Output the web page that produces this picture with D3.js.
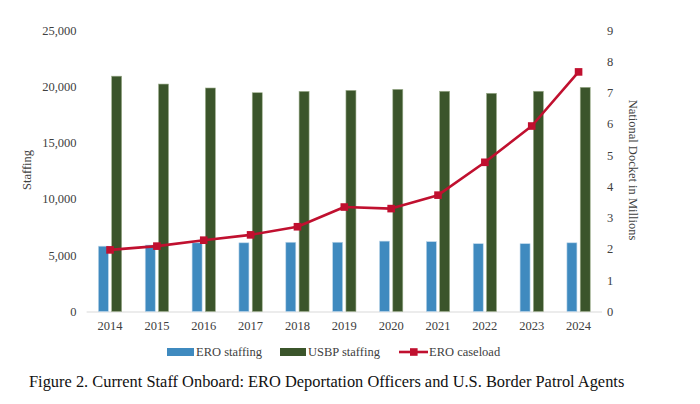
<!DOCTYPE html>
<html><head><meta charset="utf-8">
<script src="https://cdn.jsdelivr.net/npm/d3@7"></script>
<style>body{margin:0;background:#fff}svg{display:block}text{font-family:"Liberation Serif","Times New Roman",serif}</style>
</head><body>
<script>
const years = ["2014","2015","2016","2017","2018","2019","2020","2021","2022","2023","2024"];
const eroStaffing = [5800,5900,6100,6100,6150,6150,6250,6200,6020,6020,6100];
const usbpStaffing = [20900,20200,19850,19430,19550,19640,19730,19560,19380,19560,19910];
const eroCaseload = [1.97,2.09,2.28,2.45,2.71,3.34,3.29,3.72,4.77,5.93,7.66];
const leftTicks = [0,5000,10000,15000,20000,25000];
const rightTicks = [0,1,2,3,4,5,6,7,8,9];
const seriesNames = ["ERO staffing","USBP staffing","ERO caseload"];
const caption = "Figure 2. Current Staff Onboard: ERO Deportation Officers and U.S. Border Patrol Agents";

const W=700,H=404;
const svg=d3.select("body").append("svg").attr("width",W).attr("height",H);
const x=d3.scaleBand().domain(years).range([86.6,602]).paddingInner(0).paddingOuter(0);
const yL=d3.scaleLinear().domain([0,25000]).range([311.5,30]);
const yR=d3.scaleLinear().domain([0,9]).range([311.5,30]);
const blue="#3f8abf", green="#3b552b", red="#c0102f";
const barW=10, gap=3.3;

// baseline
svg.append("line").attr("x1",86.6).attr("x2",602).attr("y1",312).attr("y2",312).attr("stroke","#d9d9d9").attr("stroke-width",1.2);

const cx=d=>x(d)+x.bandwidth()/2;
svg.append("g").selectAll("rect").data(years).join("rect")
 .attr("x",d=>cx(d)-gap/2-barW).attr("width",barW)
 .attr("y",(d,i)=>yL(eroStaffing[i])).attr("height",(d,i)=>yL(0)-yL(eroStaffing[i]))
 .attr("fill",blue).attr("stroke","#bcd6ea").attr("stroke-width",0.6);
svg.append("g").selectAll("rect").data(years).join("rect")
 .attr("x",d=>cx(d)+gap/2).attr("width",barW)
 .attr("y",(d,i)=>yL(usbpStaffing[i])).attr("height",(d,i)=>yL(0)-yL(usbpStaffing[i]))
 .attr("fill",green).attr("stroke","#9fb08f").attr("stroke-width",0.6);

const line=d3.line().x((d,i)=>cx(years[i])).y(d=>yR(d));
svg.append("path").datum(eroCaseload).attr("d",line).attr("fill","none").attr("stroke",red).attr("stroke-width",2.6).attr("stroke-linejoin","round");
svg.append("g").selectAll("rect").data(eroCaseload).join("rect")
 .attr("x",(d,i)=>cx(years[i])-3.8).attr("y",d=>yR(d)-3.8).attr("width",7.6).attr("height",7.6).attr("fill",red);

// axes
const tc="#404040";
const axL=svg.append("g").attr("transform","translate(86.6,0)").call(d3.axisLeft(yL).tickValues(leftTicks).tickFormat(d3.format(",")).tickSize(0).tickPadding(10));
const axR=svg.append("g").attr("transform","translate(602,0)").call(d3.axisRight(yR).tickValues(rightTicks).tickSize(0).tickPadding(5));
const axB=svg.append("g").attr("transform","translate(0,312)").call(d3.axisBottom(x).tickSize(0).tickPadding(9));
[axL,axR,axB].forEach(a=>{a.select(".domain").remove();a.selectAll("text").attr("fill",tc).attr("font-size","12.5px").attr("font-family","Liberation Serif, serif");});

svg.append("text").attr("transform","translate(31,170) rotate(-90)").attr("text-anchor","middle").attr("font-size","12.5px").attr("fill",tc).text("Staffing");
svg.append("text").attr("transform","translate(629,170) rotate(90)").attr("text-anchor","middle").attr("font-size","12.5px").attr("fill",tc).text("National Docket in Millions");

// legend
const ly=352;
const lg=svg.append("g");
lg.append("rect").attr("x",167).attr("y",ly-4).attr("width",27).attr("height",8).attr("fill",blue);
lg.append("text").attr("x",196).attr("y",ly+4).attr("font-size","12.5px").attr("fill",tc).text(seriesNames[0]);
lg.append("rect").attr("x",280).attr("y",ly-4).attr("width",26).attr("height",8).attr("fill",green);
lg.append("text").attr("x",308).attr("y",ly+4).attr("font-size","12.5px").attr("fill",tc).text(seriesNames[1]);
lg.append("line").attr("x1",399).attr("x2",428).attr("y1",ly).attr("y2",ly).attr("stroke",red).attr("stroke-width",2.6);
lg.append("rect").attr("x",410).attr("y",ly-3.8).attr("width",7.6).attr("height",7.6).attr("fill",red);
lg.append("text").attr("x",429).attr("y",ly+4).attr("font-size","12.5px").attr("fill",tc).text(seriesNames[2]);

svg.append("text").attr("x",29).attr("y",387).attr("font-size","16.4px").attr("fill","#111").text(caption);
</script>
</body></html>
